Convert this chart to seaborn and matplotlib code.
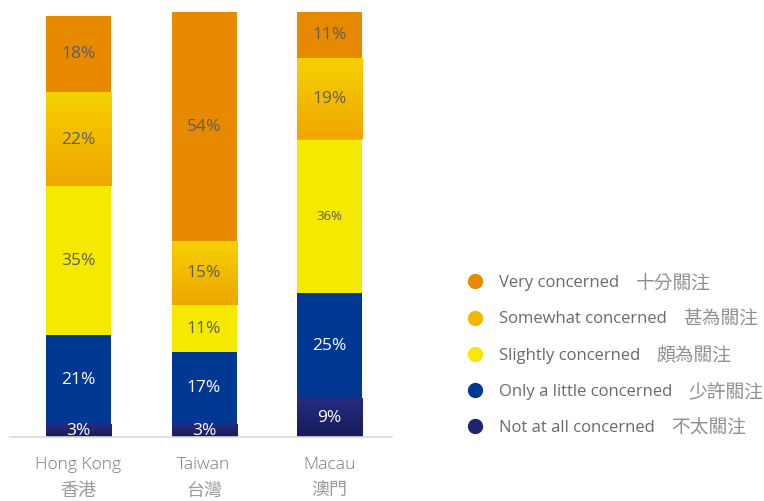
import numpy as np
import pandas as pd
import matplotlib
matplotlib.use("Agg")
import matplotlib.pyplot as plt
from matplotlib.colors import LinearSegmentedColormap
from matplotlib.lines import Line2D
from matplotlib.transforms import blended_transform_factory
import seaborn as sns

# Regions (English / Chinese) and share of respondents per concern level (%)
regions_en = ["Hong Kong", "Taiwan", "Macau"]
regions_zh = ["香港", "台灣", "澳門"]

levels_en = ["Not at all concerned", "Only a little concerned", "Slightly concerned",
             "Somewhat concerned", "Very concerned"]
levels_zh = ["不太關注", "少許關注", "頗為關注", "甚為關注", "十分關注"]

not_at_all = [3, 3, 9]
only_little = [21, 17, 25]
slightly = [35, 11, 36]
somewhat = [22, 15, 19]
very = [18, 54, 11]

series = [not_at_all, only_little, slightly, somewhat, very]

colors = ["#1f2570", "#003894", "#f5e900", "#f2b800", "#e88a00"]
gradients = {0: ("#252c82", "#171b55"), 3: ("#f5d200", "#f0a500")}
text_colors = ["white", "white", "#5e5e5e", "#5e5e5e", "#5e5e5e"]

sns.set_theme(style="white")
plt.rcParams["font.family"] = ["Open Sans", "Noto Sans CJK TC", "DejaVu Sans"]
CJK = ["Noto Sans CJK TC", "DejaVu Sans"]

rows = []
for lev, vals in zip(levels_en, series):
    for reg, v in zip(regions_en, vals):
        rows.append({"region": reg, "level": lev, "value": v})
df = pd.DataFrame(rows)
df["level"] = pd.Categorical(df["level"], levels_en, ordered=True)
df = df.sort_values(["region", "level"])
df["top"] = df.groupby("region")["value"].cumsum()
df["bottom"] = df["top"] - df["value"]

fig = plt.figure(figsize=(7.64, 5.01), dpi=100)
W, H = 764, 501
ax = fig.add_axes([10 / W, 1 - 437 / H, (392 - 10) / W, (437 - 12) / H])

bar_w = 0.518
# stacked bars: cumulative totals drawn from the top layer downwards
for i in range(len(levels_en) - 1, -1, -1):
    sub = df[df["level"] == levels_en[i]]
    sns.barplot(data=sub, x="region", y="top", order=regions_en, color=colors[i],
                saturation=1, width=bar_w, ax=ax, zorder=1, linewidth=0,
                edgecolor="none")

# vertical gradient fills for two of the levels
for i, (c_top, c_bot) in gradients.items():
    cmap = LinearSegmentedColormap.from_list(f"g{i}", [c_bot, c_top])
    grad = np.linspace(0, 1, 256).reshape(-1, 1)
    sub = df[df["level"] == levels_en[i]]
    for _, r in sub.iterrows():
        x = regions_en.index(r["region"])
        ax.imshow(grad, cmap=cmap, origin="lower", aspect="auto",
                  extent=(x - bar_w / 2, x + bar_w / 2, r["bottom"], r["top"]),
                  zorder=1.5, interpolation="bilinear")

# value labels
for _, r in df.iterrows():
    i = levels_en.index(r["level"])
    x = regions_en.index(r["region"])
    size = 9.5 if (r["region"] == "Macau" and r["value"] == 36) else 12.5
    ax.text(x, (r["bottom"] + r["top"]) / 2, f"{r['value']}%", ha="center", va="center",
            color=text_colors[i], fontsize=size, zorder=3)

ax.set_xlim(-0.546, 2.498)
ax.set_ylim(0, 100)
ax.set_xlabel("")
ax.set_ylabel("")
ax.set_yticks([])
ax.set_xticks(range(3))
ax.set_xticklabels([])
ax.tick_params(axis="x", length=0)
for s in ["top", "right", "left"]:
    ax.spines[s].set_visible(False)
ax.spines["bottom"].set_color("#d9d9d9")
ax.spines["bottom"].set_linewidth(1.2)

# two-line category labels (English above Chinese)
trans = blended_transform_factory(ax.transData, fig.transFigure)
for x, (en, zh) in enumerate(zip(regions_en, regions_zh)):
    ax.text(x, 1 - 465 / H, en, transform=trans, ha="center", va="center",
            color="#7a7a7a", fontsize=12.5, fontweight="light")
    ax.text(x, 1 - 491 / H, zh, transform=trans, ha="center", va="center",
            color="#9a9a9a", fontsize=13, family=CJK)

# legend (top entry first), Chinese names appended after each English label
handles = []
labels = []
order = list(range(len(levels_en) - 1, -1, -1))
for i in order:
    handles.append(Line2D([], [], marker="o", linestyle="", markersize=10,
                          markerfacecolor=colors[i], markeredgecolor=colors[i]))
    labels.append(levels_en[i])
leg = fig.legend(handles, labels, loc="upper left", bbox_to_anchor=(467 / W, 1 - 275 / H),
                 frameon=False, fontsize=12, labelcolor="#6a6a6a", handletextpad=0.9,
                 labelspacing=1.22, handlelength=1.0, borderaxespad=0, borderpad=0)

fig.canvas.draw()
renderer = fig.canvas.get_renderer()
inv = fig.transFigure.inverted()
for t, i in zip(leg.get_texts(), order):
    bb = t.get_window_extent(renderer)
    x0, y0 = inv.transform((bb.x1 + 17, (bb.y0 + bb.y1) / 2))
    fig.text(x0, y0, levels_zh[i], ha="left", va="center", color="#8f8f8f",
             fontsize=13.5, family=CJK)

fig.savefig("out.png", dpi=100)
